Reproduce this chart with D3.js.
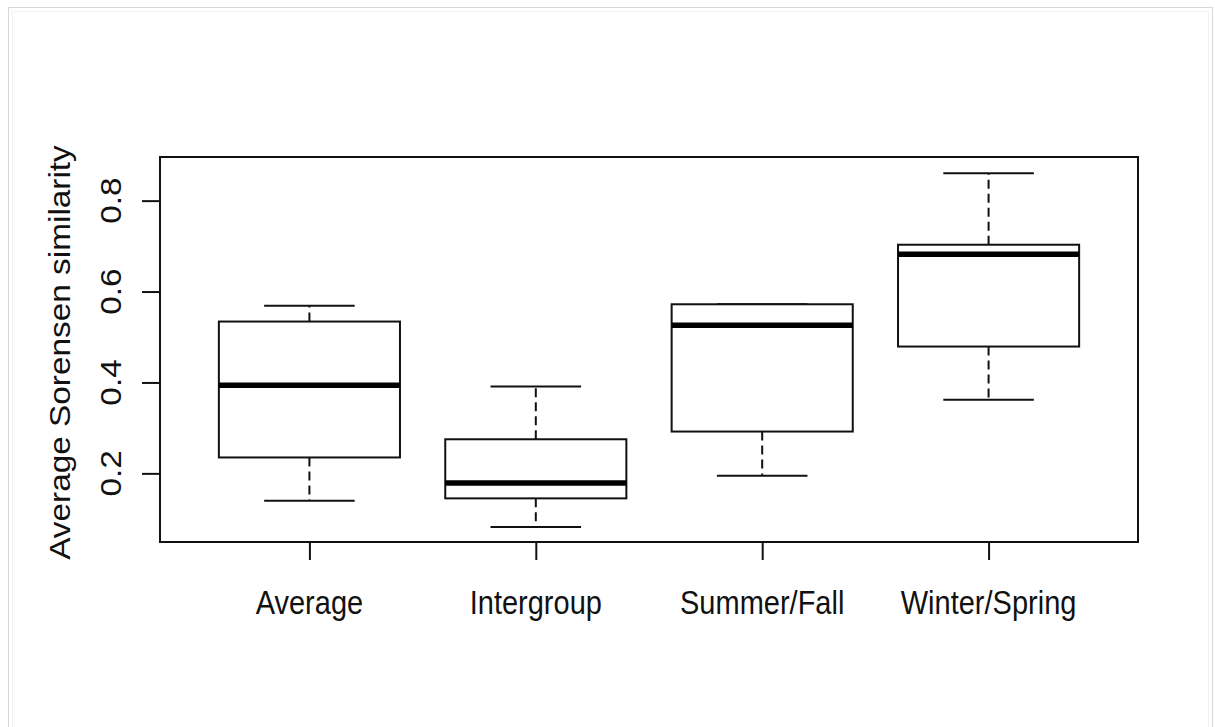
<!DOCTYPE html>
<html>
<head>
<meta charset="utf-8">
<script src="https://cdn.jsdelivr.net/npm/d3@7"></script>
<style>
  html, body { margin: 0; padding: 0; background: #fff; }
  svg { display: block; }
  text { font-family: "Liberation Sans", Arial, sans-serif; fill: #111; }
</style>
</head>
<body>
<svg id="chart" width="1215" height="727"></svg>
<script>
// ---- data ----
const categories = ["Average", "Intergroup", "Summer/Fall", "Winter/Spring"];
const whiskerLow  = [0.140, 0.082, 0.195, 0.362];
const q1          = [0.235, 0.145, 0.292, 0.479];
const medians     = [0.394, 0.179, 0.526, 0.682];
const q3          = [0.534, 0.275, 0.572, 0.703];
const whiskerHigh = [0.569, 0.391, 0.572, 0.860];
const yTicks = [0.2, 0.4, 0.6, 0.8];
const yLabel = "Average Sorensen similarity";

// ---- layout ----
const svg = d3.select("#chart");
const plot = { left: 160, right: 1138, top: 157, bottom: 542 };
const fontSize = 29;
const stretch = 1.15;

// outer faint frame
svg.append("rect").attr("x", 8.5).attr("y", 7.5).attr("width", 1204).attr("height", 730)
  .attr("fill", "none").attr("stroke", "#d8d8d8").attr("stroke-width", 1);
svg.append("rect").attr("x", 12.5).attr("y", 11.5).attr("width", 1196).attr("height", 730)
  .attr("fill", "none").attr("stroke", "#f3f3f3").attr("stroke-width", 1);

const x = d3.scaleLinear().domain([0.34, 4.66]).range([plot.left, plot.right]);
const y = d3.scaleLinear().domain([0.049, 0.896]).range([plot.bottom, plot.top]);

const boxHalf = 0.4;   // box width 0.8 category units
const capHalf = 0.2;   // staple half width

const data = categories.map((c, i) => ({
  name: c, pos: i + 1,
  lo: whiskerLow[i], q1: q1[i], med: medians[i], q3: q3[i], hi: whiskerHigh[i]
}));

const g = svg.append("g");

// whiskers (dashed)
g.selectAll(".wlow").data(data).join("line")
  .attr("x1", d => x(d.pos)).attr("x2", d => x(d.pos))
  .attr("y1", d => y(d.q1)).attr("y2", d => y(d.lo))
  .attr("stroke", "#111").attr("stroke-width", 2).attr("stroke-dasharray", "9,5");
g.selectAll(".whigh").data(data).join("line")
  .attr("x1", d => x(d.pos)).attr("x2", d => x(d.pos))
  .attr("y1", d => y(d.q3)).attr("y2", d => y(d.hi))
  .attr("stroke", "#111").attr("stroke-width", 2).attr("stroke-dasharray", "9,5");

// staples
g.selectAll(".caplo").data(data).join("line")
  .attr("x1", d => x(d.pos - capHalf)).attr("x2", d => x(d.pos + capHalf))
  .attr("y1", d => y(d.lo)).attr("y2", d => y(d.lo))
  .attr("stroke", "#111").attr("stroke-width", 2);
g.selectAll(".caphi").data(data).join("line")
  .attr("x1", d => x(d.pos - capHalf)).attr("x2", d => x(d.pos + capHalf))
  .attr("y1", d => y(d.hi)).attr("y2", d => y(d.hi))
  .attr("stroke", "#111").attr("stroke-width", 2);

// boxes
g.selectAll(".box").data(data).join("rect")
  .attr("x", d => x(d.pos - boxHalf)).attr("width", d => x(d.pos + boxHalf) - x(d.pos - boxHalf))
  .attr("y", d => y(d.q3)).attr("height", d => y(d.q1) - y(d.q3))
  .attr("fill", "#fff").attr("stroke", "#111").attr("stroke-width", 2);

// medians
g.selectAll(".med").data(data).join("line")
  .attr("x1", d => x(d.pos - boxHalf)).attr("x2", d => x(d.pos + boxHalf))
  .attr("y1", d => y(d.med)).attr("y2", d => y(d.med))
  .attr("stroke", "#000").attr("stroke-width", 5.5);

// plot frame
svg.append("rect").attr("x", plot.left).attr("y", plot.top)
  .attr("width", plot.right - plot.left).attr("height", plot.bottom - plot.top)
  .attr("fill", "none").attr("stroke", "#111").attr("stroke-width", 2);

// y axis ticks
const yAxis = d3.axisLeft(y).tickValues(yTicks).tickSize(18).tickFormat("");
const ya = svg.append("g").attr("transform", `translate(${plot.left},0)`).call(yAxis);
ya.select(".domain").remove();
ya.selectAll(".tick line").attr("stroke", "#111").attr("stroke-width", 2);

// y tick labels (rotated as in R)
svg.selectAll(".ylab").data(yTicks).join("text")
  .attr("transform", d => `translate(121,${y(d)}) rotate(-90) scale(${stretch},1)`)
  .attr("text-anchor", "middle").attr("font-size", fontSize)
  .text(d => d3.format(".1f")(d));

// x axis ticks
const xAxis = d3.axisBottom(x).tickValues(data.map(d => d.pos)).tickSize(18).tickFormat("");
const xa = svg.append("g").attr("transform", `translate(0,${plot.bottom})`).call(xAxis);
xa.select(".domain").remove();
xa.selectAll(".tick line").attr("stroke", "#111").attr("stroke-width", 2);

// x category labels
svg.selectAll(".xlab").data(data).join("text")
  .attr("transform", d => `translate(${x(d.pos)},614) scale(1,${stretch})`)
  .attr("text-anchor", "middle").attr("font-size", fontSize)
  .text(d => d.name);

// y axis title
svg.append("text")
  .attr("transform", `translate(70,${(plot.top + plot.bottom) / 2 + 3}) rotate(-90) scale(${stretch},1)`)
  .attr("text-anchor", "middle").attr("font-size", fontSize)
  .text(yLabel);
</script>
</body>
</html>
